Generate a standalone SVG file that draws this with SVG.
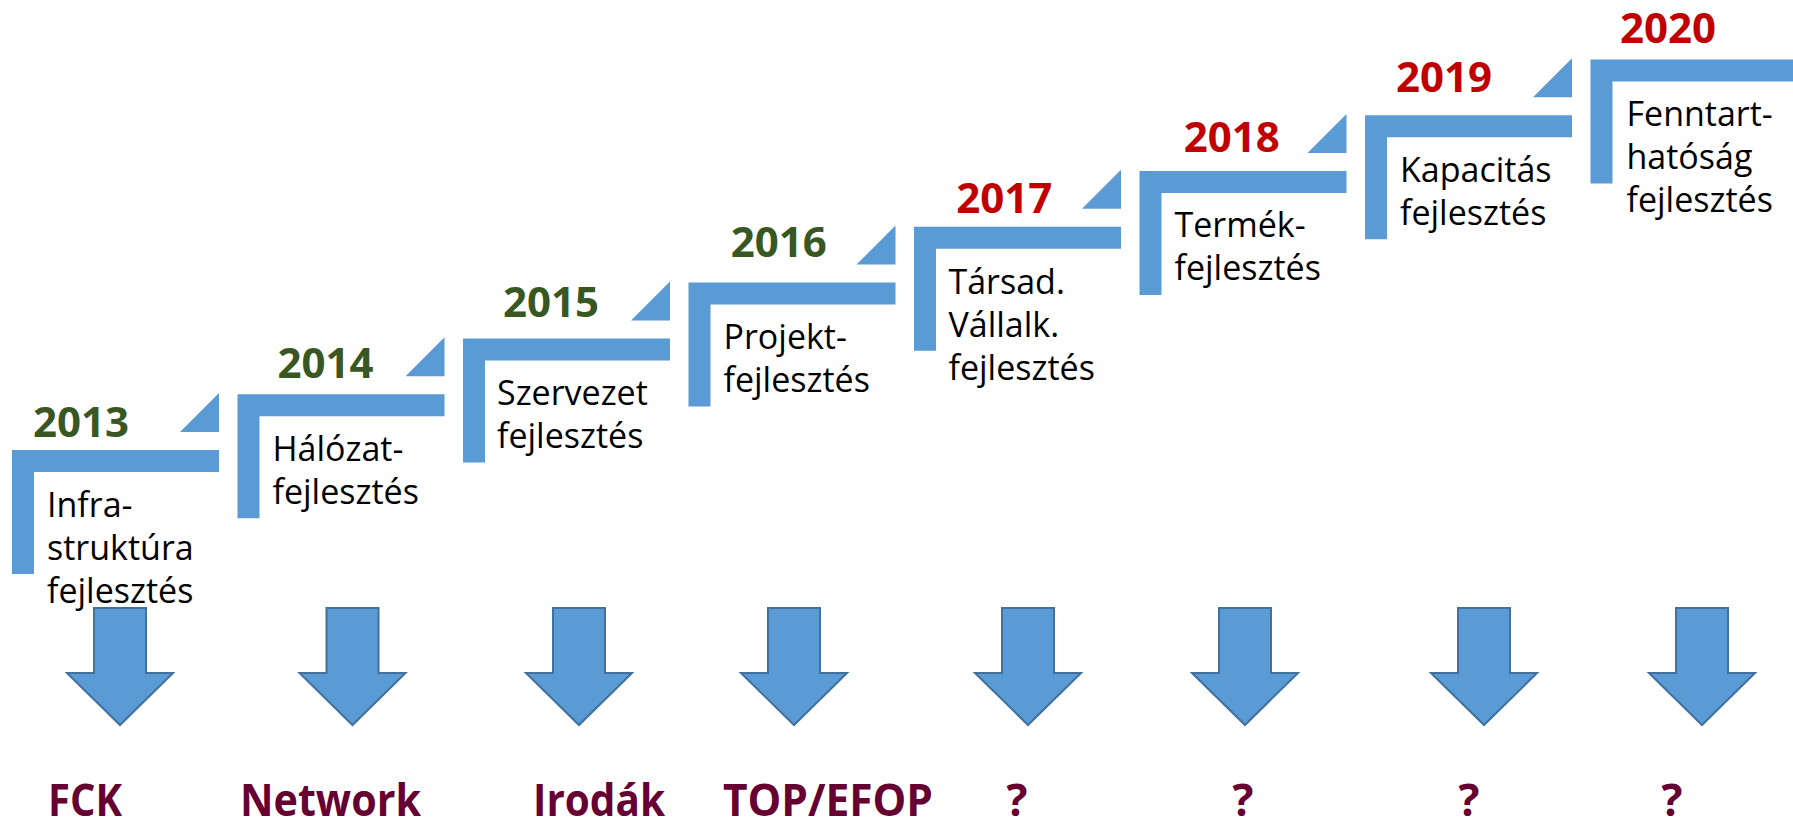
<svg xmlns="http://www.w3.org/2000/svg" width="1793" height="826" viewBox="0 0 1793 826">
<defs>
<style>
.bar{fill:#5B9BD5;}
.tri{fill:#5B9BD5;}
.yg{font-family:"Open Sans","Liberation Sans",sans-serif;font-weight:bold;font-size:42px;fill:#385723;}
.yr{font-family:"Open Sans","Liberation Sans",sans-serif;font-weight:bold;font-size:42px;fill:#C00000;}
.body{font-family:"Open Sans","Liberation Sans",sans-serif;font-size:34px;fill:#000000;}
.arrow{fill:#5B9BD5;stroke:#41719C;stroke-width:2;}
.lbl{font-family:"Open Sans","Liberation Sans",sans-serif;font-weight:bold;font-size:44px;fill:#660033;}
</style>
</defs>
<rect width="1793" height="826" fill="#FFFFFF"/>
<g id="step-2013">
<path class="bar" d="M12,450 H219 V472 H34 V574 H12 Z"/>
<polygon class="tri" points="180,432 219,432 219,393"/>
<text class="yg" x="33" y="437">2013</text>
<text class="body" x="47" y="516.5">Infra-<tspan x="47" y="559.5">struktúra</tspan><tspan x="47" y="602.5">fejlesztés</tspan></text>
</g>
<g id="step-2014">
<path class="bar" d="M237.5,394.2 H444.5 V416.2 H259.5 V518.2 H237.5 Z"/>
<polygon class="tri" points="405.5,376.2 444.5,376.2 444.5,337.2"/>
<text class="yg" x="277.5" y="378">2014</text>
<text class="body" x="272.5" y="461">Hálózat-<tspan x="272.5" y="504">fejlesztés</tspan></text>
</g>
<g id="step-2015">
<path class="bar" d="M463,338.4 H670 V360.4 H485 V462.4 H463 Z"/>
<polygon class="tri" points="631,320.4 670,320.4 670,281.4"/>
<text class="yg" x="503" y="317.3">2015</text>
<text class="body" x="497" y="405">Szervezet<tspan x="497" y="448">fejlesztés</tspan></text>
</g>
<g id="step-2016">
<path class="bar" d="M688.5,282.6 H895.5 V304.6 H710.5 V406.6 H688.5 Z"/>
<polygon class="tri" points="856.5,264.6 895.5,264.6 895.5,225.6"/>
<text class="yg" x="730.8" y="257.3">2016</text>
<text class="body" x="723.5" y="349">Projekt-<tspan x="723.5" y="392">fejlesztés</tspan></text>
</g>
<g id="step-2017">
<path class="bar" d="M914,226.8 H1121 V248.8 H936 V350.8 H914 Z"/>
<polygon class="tri" points="1082,208.8 1121,208.8 1121,169.8"/>
<text class="yr" x="956.3" y="212.7">2017</text>
<text class="body" x="948.5" y="293.5">Társad.<tspan x="948.5" y="336.5">Vállalk.</tspan><tspan x="948.5" y="379.5">fejlesztés</tspan></text>
</g>
<g id="step-2018">
<path class="bar" d="M1139.5,171 H1346.5 V193 H1161.5 V295 H1139.5 Z"/>
<polygon class="tri" points="1307.5,153 1346.5,153 1346.5,114"/>
<text class="yr" x="1183.7" y="151.7">2018</text>
<text class="body" x="1174.5" y="237">Termék-<tspan x="1174.5" y="280">fejlesztés</tspan></text>
</g>
<g id="step-2019">
<path class="bar" d="M1365,115.2 H1572 V137.2 H1387 V239.2 H1365 Z"/>
<polygon class="tri" points="1533,97.2 1572,97.2 1572,58.2"/>
<text class="yr" x="1396" y="91.7">2019</text>
<text class="body" x="1400" y="181.5">Kapacitás<tspan x="1400" y="224.5">fejlesztés</tspan></text>
</g>
<g id="step-2020">
<path class="bar" d="M1590.5,59.4 H1797.5 V81.4 H1612.5 V183.4 H1590.5 Z"/>
<text class="yr" x="1620" y="43.3">2020</text>
<text class="body" x="1626.5" y="125.5">Fenntart-<tspan x="1626.5" y="168.5">hatóság</tspan><tspan x="1626.5" y="211.5">fejlesztés</tspan></text>
</g>
<g id="connectors">
<path class="arrow" d="M94,608 H146 V673 H173 L120,725 L67,673 H94 Z"/>
<path class="arrow" d="M326.5,608 H378.5 V673 H405.5 L352.5,725 L299.5,673 H326.5 Z"/>
<path class="arrow" d="M553,608 H605 V673 H632 L579,725 L526,673 H553 Z"/>
<path class="arrow" d="M768,608 H820 V673 H847 L794,725 L741,673 H768 Z"/>
<path class="arrow" d="M1002,608 H1054 V673 H1081 L1028,725 L975,673 H1002 Z"/>
<path class="arrow" d="M1219,608 H1271 V673 H1298 L1245,725 L1192,673 H1219 Z"/>
<path class="arrow" d="M1458,608 H1510 V673 H1537 L1484,725 L1431,673 H1458 Z"/>
<path class="arrow" d="M1676,608 H1728 V673 H1755 L1702,725 L1649,673 H1676 Z"/>
</g>
<g id="outcomes">
<text class="lbl" x="48" y="816" textLength="74" lengthAdjust="spacingAndGlyphs">FCK</text>
<text class="lbl" x="240" y="816" textLength="181" lengthAdjust="spacingAndGlyphs">Network</text>
<text class="lbl" x="533" y="816" textLength="132" lengthAdjust="spacingAndGlyphs">Irodák</text>
<text class="lbl" x="723" y="816" textLength="210" lengthAdjust="spacingAndGlyphs">TOP/EFOP</text>
<text class="lbl" x="1017" y="816" text-anchor="middle">?</text>
<text class="lbl" x="1243" y="816" text-anchor="middle">?</text>
<text class="lbl" x="1469" y="816" text-anchor="middle">?</text>
<text class="lbl" x="1672" y="816" text-anchor="middle">?</text>
</g>
</svg>
